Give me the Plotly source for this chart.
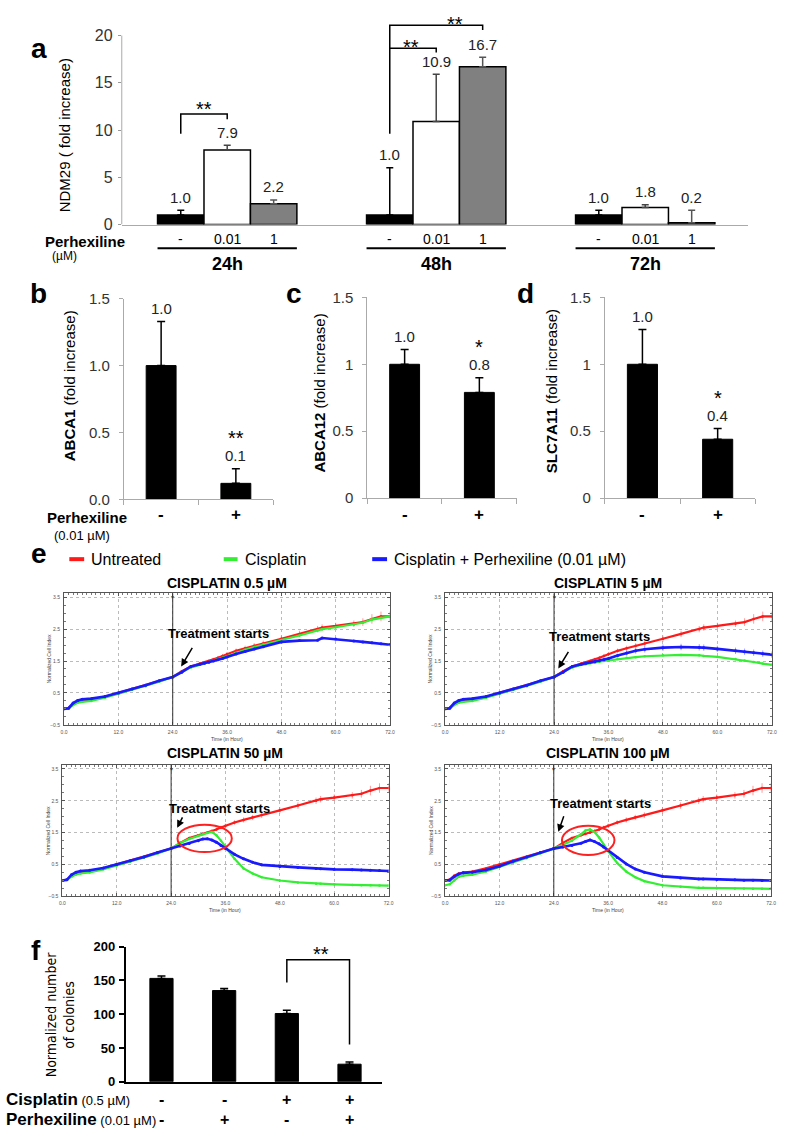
import plotly.graph_objects as go

W, H = 787, 1138
FONT = "Liberation Sans, Arial, Helvetica, sans-serif"
NARROW = "Liberation Sans Narrow, Arial Narrow, DejaVu Sans Condensed, Liberation Sans, Arial, sans-serif"


def px(x):
    return x / W


def py(y):
    return 1 - y / H


# ---------------- data ----------------
# (a) NDM29 fold increase
time_groups = ["24h", "48h", "72h"]
perhex_doses = ["-", "0.01", "1"]
ndm29_ctrl = [1.0, 1.0, 1.0]
ndm29_ctrl_err = [0.5, 5.0, 0.5]
ndm29_p001 = [7.9, 10.9, 1.8]
ndm29_p001_err = [0.5, 5.0, 0.3]
ndm29_p1 = [2.2, 16.7, 0.2]
ndm29_p1_err = [0.4, 1.0, 1.3]

# (b-d) transporter expression
perhex_flags = ["-", "+"]
abca1 = [1.0, 0.12]
abca1_err = [0.33, 0.11]
abca1_sig = ["", "**"]
abca12 = [1.0, 0.79]
abca12_err = [0.11, 0.11]
abca12_sig = ["", "*"]
slc7a11 = [1.0, 0.44]
slc7a11_err = [0.26, 0.08]
slc7a11_sig = ["", "*"]

# (e) real-time cell index
hours = [0, 1, 2, 3, 4, 6, 9, 12, 15, 18, 21, 24, 26, 28, 30, 31, 32, 33, 34, 35, 36,
         38, 40, 42, 44, 48, 52, 56, 57, 60, 64, 66, 68, 70, 72]
untreated = [0.00, 0.03, 0.15, 0.22, 0.25, 0.28, 0.38, 0.50, 0.62, 0.74, 0.87, 1.00,
             1.18, 1.33, 1.42, 1.46, 1.50, 1.55, 1.60, 1.66, 1.72, 1.82, 1.90, 1.98,
             2.05, 2.20, 2.35, 2.50, 2.55, 2.60, 2.67, 2.72, 2.82, 2.90, 2.90]
untreated_err = [0, 0, 0, 0, 0, 0, 0, 0, 0, 0, 0, 0, 0, 0.02, 0.03, 0.03, 0.04, 0.05,
                 0.05, 0.06, 0.06, 0.07, 0.08, 0.08, 0.09, 0.10, 0.10, 0.10, 0.10, 0.10,
                 0.10, 0.12, 0.15, 0.15, 0.15]
cis05 = [0.00, 0.02, 0.12, 0.19, 0.22, 0.25, 0.35, 0.47, 0.59, 0.71, 0.85, 1.00,
         1.15, 1.30, 1.38, 1.42, 1.46, 1.50, 1.55, 1.60, 1.65, 1.76, 1.85, 1.94,
         2.02, 2.16, 2.30, 2.46, 2.50, 2.56, 2.64, 2.70, 2.80, 2.86, 2.90]
cis05_perh = [0.00, 0.02, 0.18, 0.26, 0.30, 0.32, 0.39, 0.50, 0.62, 0.74, 0.88, 1.00,
              1.15, 1.33, 1.40, 1.43, 1.46, 1.50, 1.54, 1.58, 1.63, 1.72, 1.80, 1.88,
              1.95, 2.10, 2.14, 2.15, 2.22, 2.19, 2.13, 2.10, 2.07, 2.04, 2.01]
cis5 = [0.00, 0.02, 0.12, 0.19, 0.22, 0.25, 0.35, 0.47, 0.59, 0.71, 0.85, 1.00,
        1.15, 1.30, 1.38, 1.41, 1.44, 1.46, 1.48, 1.50, 1.52, 1.56, 1.60, 1.62,
        1.65, 1.68, 1.69, 1.68, 1.66, 1.63, 1.56, 1.52, 1.47, 1.42, 1.38]
cis5_perh = [0.00, 0.02, 0.18, 0.26, 0.30, 0.32, 0.39, 0.50, 0.62, 0.74, 0.88, 1.00,
             1.15, 1.33, 1.40, 1.43, 1.46, 1.48, 1.51, 1.54, 1.58, 1.67, 1.75, 1.82,
             1.87, 1.92, 1.94, 1.93, 1.92, 1.88, 1.82, 1.79, 1.76, 1.73, 1.70]
cis5_perh_err = [0, 0, 0, 0, 0, 0, 0, 0, 0, 0, 0, 0, 0, 0, 0, 0, 0, 0, 0,
                 0.04, 0.05, 0.06, 0.08, 0.09, 0.10, 0.10, 0.10, 0.10, 0.10, 0.10,
                 0.10, 0.10, 0.10, 0.10, 0.10]
cis50 = [0.00, 0.02, 0.12, 0.19, 0.22, 0.25, 0.35, 0.47, 0.59, 0.71, 0.85, 1.00,
         1.18, 1.30, 1.40, 1.45, 1.49, 1.52, 1.42, 1.25, 1.05, 0.68, 0.38, 0.22,
         0.10, 0.00, -0.06, -0.10, -0.10, -0.12, -0.14, -0.15, -0.15, -0.16, -0.16]
cis50_perh = [0.00, 0.02, 0.18, 0.26, 0.30, 0.32, 0.39, 0.50, 0.62, 0.74, 0.88, 1.00,
              1.08, 1.16, 1.25, 1.30, 1.31, 1.27, 1.20, 1.10, 1.00, 0.82, 0.68, 0.57,
              0.49, 0.44, 0.41, 0.38, 0.37, 0.35, 0.34, 0.33, 0.32, 0.31, 0.30]
cis100 = [-0.15, -0.12, 0.00, 0.12, 0.15, 0.18, 0.28, 0.42, 0.56, 0.70, 0.85, 1.00,
          1.12, 1.25, 1.45, 1.57, 1.60, 1.52, 1.35, 1.12, 0.92, 0.55, 0.28, 0.10,
          -0.02, -0.15, -0.20, -0.23, -0.23, -0.24, -0.25, -0.25, -0.26, -0.26, -0.26]
cis100_perh = [0.00, 0.01, 0.12, 0.20, 0.24, 0.26, 0.33, 0.45, 0.60, 0.74, 0.88, 1.00,
               1.05, 1.10, 1.17, 1.22, 1.27, 1.22, 1.15, 1.05, 0.94, 0.72, 0.52, 0.36,
               0.26, 0.13, 0.08, 0.05, 0.05, 0.03, 0.02, 0.01, 0.01, 0.00, 0.00]

# (f) colony formation
cisplatin_flags = ["-", "-", "+", "+"]
perhexiline_flags = ["-", "+", "-", "+"]
colonies = [153, 135, 101, 26]
colonies_err = [3.5, 3.0, 5.0, 3.4]

# ---------------- figure ----------------
fig = go.Figure()
ann = []
shapes = []
layout_axes = {}


def text(x, y, s, size=15, bold=False, color="black", xanchor="center",
         yanchor="middle", angle=0, family=FONT):
    ann.append(dict(x=px(x), y=py(y), xref="paper", yref="paper",
                    text=f"<b>{s}</b>" if bold else s, showarrow=False,
                    font=dict(size=size, color=color, family=family),
                    xanchor=xanchor, yanchor=yanchor, textangle=angle))


def bracket(xr, yr, x0, x1, yl, yt, yrr, width=1.5):
    shapes.append(dict(type="path", xref=xr, yref=yr,
                       path=f"M {x0},{yl} L {x0},{yt} L {x1},{yt} L {x1},{yrr}",
                       line=dict(color="black", width=width)))


# ---- panel a ----
layout_axes["xaxis"] = dict(domain=[px(120), px(753)], range=[-1.27, 12.22],
                            showline=True, linecolor="#aaaaaa", linewidth=1,
                            showticklabels=False, ticks="", showgrid=False,
                            zeroline=False, anchor="y", fixedrange=True)
layout_axes["yaxis"] = dict(domain=[py(219), py(3)], range=[0, 22.5],
                            tickvals=[0, 5, 10, 15, 20], ticks="outside", ticklen=3,
                            tickcolor="#999999", tickfont=dict(size=16, color="#333",
                                                               family=FONT),
                            ticklabelstandoff=2, showline=False, showgrid=False,
                            zeroline=False, anchor="x")
shapes.append(dict(type="line", xref="x domain", yref="y", x0=0, x1=0, y0=0, y1=20,
                   line=dict(color="#aaaaaa", width=1)))

a_series = [
    (ndm29_ctrl, ndm29_ctrl_err, "black", "black", 0),
    (ndm29_p001, ndm29_p001_err, "white", "#444444", 1),
    (ndm29_p1, ndm29_p1_err, "#808080", "#555555", 2),
]
for vals, errs, col, ecol, j in a_series:
    xs = [g * 4.5 + j for g in range(len(time_groups))]
    fig.add_trace(go.Bar(x=xs, y=vals, width=1, xaxis="x", yaxis="y",
                         marker=dict(color=col, line=dict(color="black", width=1.5)),
                         error_y=dict(type="data", array=errs, symmetric=False,
                                      arrayminus=[0 for _ in vals], color=ecol,
                                      thickness=1.5, width=3.5),
                         showlegend=False))
    for xv, v, e in zip(xs, vals, errs):
        ann.append(dict(x=xv, y=v + e, xref="x", yref="y", text=f"{v:.1f}",
                        showarrow=False, yanchor="middle", yshift=13,
                        font=dict(size=15, color="#222", family=FONT)))

for g, grp in enumerate(time_groups):
    for j, d in enumerate(perhex_doses):
        ann.append(dict(x=g * 4.5 + j, y=py(234), xref="x", yref="paper", text=d,
                        showarrow=False, yanchor="middle",
                        font=dict(size=14, color="black", family=FONT)))
    shapes.append(dict(type="line", xref="x", yref="paper", x0=g * 4.5 - 0.5,
                       x1=g * 4.5 + 2.5, y0=py(243), y1=py(243),
                       line=dict(color="black", width=2)))
    ann.append(dict(x=g * 4.5 + 1, y=py(259), xref="x", yref="paper",
                    text=f"<b>{grp}</b>", showarrow=False, yanchor="middle",
                    font=dict(size=18, color="black", family=FONT)))

text(83, 236, "Perhexiline", size=15, bold=True)
text(62, 251, "(µM)", size=12)
text(63, 128, "NDM29 ( fold increase)", size=15, angle=-90)
text(36, 40, "a", size=28, bold=True)

# significance a
bracket("x", "y", 0, 1, 9.6, 11.7, 11.15)
bracket("x", "y", 4.5, 6.5, 9.6, 21.1, 20.6)
shapes.append(dict(type="path", xref="x", yref="y", path="M 4.5,18.65 L 5.5,18.65 L 5.5,18.2",
                   line=dict(color="black", width=1.5)))
for xs_, ys_ in [(0.5, 12.2), (5.9, 21.25), (4.95, 18.8)]:
    ann.append(dict(x=xs_, y=ys_, xref="x", yref="y", text="**", showarrow=False,
                    yanchor="middle", font=dict(size=20, color="black", family=FONT)))

# ---- panels b, c, d ----
bcd = [
    (2, abca1, abca1_err, abca1_sig, "<b>ABCA1</b> (fold increase)", (122, 273),
     (498.3, 294.3), ["0.0", "0.5", "1.0", "1.5"], 68, 383, "b", 36),
    (3, abca12, abca12_err, abca12_sig, "<b>ABCA12</b> (fold increase)", (368, 519),
     (497, 293), ["0", "0.5", "1", "1.5"], 320, 390, "c", 294),
    (4, slc7a11, slc7a11_err, slc7a11_sig, "<b>SLC7A11</b> (fold increase)", (608, 760),
     (497, 293), ["0", "0.5", "1", "1.5"], 555, 388, "d", 528),
]
for n, vals, errs, sigs, ytitle, xd, yd, ttxt, tx, ty, lab, lx in bcd:
    layout_axes[f"xaxis{n}"] = dict(domain=[px(xd[0]), px(xd[1])], range=[-0.5, 1.5],
                                    tickvals=[-0.5, 0.5, 1.5], ticks="outside", ticklen=5,
                                    tickcolor="#aaaaaa", showticklabels=False,
                                    showline=True, linecolor="#aaaaaa", showgrid=False,
                                    zeroline=False, anchor=f"y{n}")
    layout_axes[f"yaxis{n}"] = dict(domain=[py(yd[0]), py(yd[1])], range=[0, 1.5],
                                    tickvals=[0, 0.5, 1, 1.5], ticktext=ttxt,
                                    ticks="outside", ticklen=4, tickcolor="#aaaaaa",
                                    ticklabelstandoff=6,
                                    tickfont=dict(size=15, color="#333", family=FONT),
                                    showline=True, linecolor="#aaaaaa", showgrid=False,
                                    zeroline=False, anchor=f"x{n}")
    fig.add_trace(go.Bar(x=[0, 1], y=vals, width=0.4, xaxis=f"x{n}", yaxis=f"y{n}",
                         marker=dict(color="black", line=dict(color="black", width=1)),
                         error_y=dict(type="data", array=errs, symmetric=False,
                                      arrayminus=[0, 0], color="black", thickness=1.5,
                                      width=4),
                         showlegend=False))
    for j, (v, e, s) in enumerate(zip(vals, errs, sigs)):
        ann.append(dict(x=j, y=v + e, xref=f"x{n}", yref=f"y{n}", text=f"{v:.1f}",
                        showarrow=False, yanchor="middle", yshift=13,
                        font=dict(size=15, color="#222", family=FONT)))
        if s:
            ann.append(dict(x=j, y=v + e, xref=f"x{n}", yref=f"y{n}", text=s,
                            showarrow=False, yanchor="middle", yshift=31,
                            font=dict(size=20, color="black", family=FONT)))
        ann.append(dict(x=j, y=py(514), xref=f"x{n}", yref="paper",
                        text=f"<b>{perhex_flags[j]}</b>", showarrow=False,
                        yanchor="middle", font=dict(size=17, color="black", family=FONT)))
    text(tx, ty, ytitle, size=15, angle=-90)
    text(lx, 289, lab, size=28, bold=True)

text(85, 517, "Perhexiline", size=15, bold=True)
text(80, 535, "(0.01 µM)", size=13)

# ---- panel e ----
text(36, 553, "e", size=28, bold=True)
legend_items = [("#ff1a1a", 67, 82, "Untreated"), ("#33ee33", 223, 237, "Cisplatin"),
                ("#1a1aff", 373, 388, "Cisplatin + Perhexiline (0.01 µM)")]
for col, x0, x1, lbl in legend_items:
    shapes.append(dict(type="line", xref="paper", yref="paper", x0=px(x0), x1=px(x1),
                       y0=py(559), y1=py(559), line=dict(color=col, width=4)))
    text(x1 + 5, 559, lbl, size=16, xanchor="left")

e_panels = [
    (5, (61.7, 391.0), 727.3, "CISPLATIN 0.5 µM", 583, cis05, cis05_perh, None, None,
     (218, 635), (180, 668), (192, 648)),
    (6, (446.7, 776.7), 727.3, "CISPLATIN 5 µM", 583, cis5, cis5_perh, cis5_perh_err,
     None, (603, 638), (561, 670), (572, 652)),
    (7, (60.0, 389.5), 901.7, "CISPLATIN 50 µM", 756, cis50, cis50_perh, None,
     (31.4, 1.32, 6.0, 0.43), (219, 812), (176, 832), (182, 820)),
    (8, (446.7, 776.0), 901.7, "CISPLATIN 100 µM", 756, cis100, cis100_perh, None,
     (31.6, 1.26, 5.8, 0.46), (604, 807), (561, 836), (567, 819)),
]
for n, xd, ybot, title, title_y, green, blue, blue_err, ell, ts, tip, tail in e_panels:
    ytop = ybot - 4.12 * 32.4
    layout_axes[f"xaxis{n}"] = dict(
        domain=[px(xd[0]), px(xd[1])], range=[0, 72], tick0=0, dtick=12,
        tickformat=".1f", ticks="inside", ticklen=3, tickcolor="#555",
        tickfont=dict(size=5, color="#555", family=FONT), ticklabelstandoff=2,
        showline=True, linecolor="#555", linewidth=1, mirror="allticks",
        showgrid=True, gridcolor="#bbbbbb", griddash="dot", gridwidth=0.8,
        zeroline=False, anchor=f"y{n}",
        minor=dict(dtick=1, ticks="inside", ticklen=2, tickcolor="#777", showgrid=False))
    layout_axes[f"yaxis{n}"] = dict(
        domain=[py(ybot), py(ytop)], range=[-0.5, 3.62], tick0=-0.5, dtick=1,
        tickformat=".1f", ticks="inside", ticklen=3, tickcolor="#555",
        tickfont=dict(size=5, color="#555", family=FONT), ticklabelstandoff=2,
        showline=True, linecolor="#555", linewidth=1, mirror="allticks",
        showgrid=True, gridcolor="#bbbbbb", griddash="dot", gridwidth=0.8,
        zeroline=False, anchor=f"x{n}",
        minor=dict(dtick=0.25, ticks="inside", ticklen=2, tickcolor="#777", showgrid=False))
    fig.add_trace(go.Scatter(
        x=hours, y=untreated, mode="lines+markers", xaxis=f"x{n}", yaxis=f"y{n}",
        line=dict(color="#ff1a1a", width=2.2), marker=dict(size=2.5, color="#ff1a1a"),
        error_y=dict(type="data", array=untreated_err, color="rgba(255,90,90,0.75)",
                     thickness=0.8, width=0), showlegend=False))
    fig.add_trace(go.Scatter(
        x=hours, y=green, mode="lines+markers", xaxis=f"x{n}", yaxis=f"y{n}",
        line=dict(color="#33ee33", width=2.2), marker=dict(size=2.5, color="#33ee33"),
        showlegend=False))
    blue_kw = {}
    if blue_err is not None:
        blue_kw["error_y"] = dict(type="data", array=blue_err,
                                  color="rgba(90,90,255,0.7)", thickness=0.8, width=0)
    fig.add_trace(go.Scatter(
        x=hours, y=blue, mode="lines+markers", xaxis=f"x{n}", yaxis=f"y{n}",
        line=dict(color="#1a1aff", width=2.6), marker=dict(size=3, color="#1a1aff"),
        showlegend=False, **blue_kw))
    # treatment line
    shapes.append(dict(type="line", xref=f"x{n}", yref=f"y{n} domain", x0=24, x1=24,
                       y0=0, y1=1, line=dict(color="#333", width=1)))
    ann.append(dict(x=24, y=1, xref=f"x{n}", yref=f"y{n} domain", text="▼",
                    showarrow=False, yanchor="top", yshift=1,
                    font=dict(size=5, color="#333", family=FONT)))
    if ell is not None:
        cx, cy, rx, ry = ell
        shapes.append(dict(type="circle", xref=f"x{n}", yref=f"y{n}", x0=cx - rx,
                           x1=cx + rx, y0=cy - ry, y1=cy + ry,
                           line=dict(color="#ff2020", width=2)))
    cxp = (xd[0] + xd[1]) / 2
    text(cxp, title_y, title, size=14, bold=True)
    text(xd[0] - 15, (ybot + ytop) / 2, "Normalized Cell Index", size=5, angle=-90,
         color="#444")
    text(cxp, ybot + 14, "Time (in Hour)", size=5, color="#444")
    text(ts[0], ts[1], "Treatment starts", size=13, bold=True)
    ann.append(dict(x=px(tip[0]), y=py(tip[1]), xref="paper", yref="paper", text="",
                    showarrow=True, arrowhead=2, arrowsize=1, arrowwidth=1.5,
                    arrowcolor="black", axref="pixel", ayref="pixel",
                    ax=tail[0] - tip[0], ay=tail[1] - tip[1]))

# ---- panel f ----
layout_axes["xaxis9"] = dict(domain=[px(124), px(383)], range=[-0.57, 3.52],
                             showline=True, linecolor="black", linewidth=2,
                             showticklabels=False, ticks="", showgrid=False,
                             zeroline=False, anchor="y9")
layout_axes["yaxis9"] = dict(domain=[py(1090), py(952.7)], range=[0, 200],
                             tickvals=[0, 50, 100, 150, 200], ticks="outside", ticklen=5,
                             tickwidth=2, tickcolor="black", ticklabelstandoff=1,
                             tickfont=dict(size=13, color="black", family=FONT,
                                           weight="bold"),
                             showline=True, linecolor="black", linewidth=2,
                             showgrid=False, zeroline=False, anchor="x9")
fig.add_trace(go.Bar(x=list(range(len(colonies))), y=colonies, width=0.37,
                     xaxis="x9", yaxis="y9",
                     marker=dict(color="black", line=dict(color="black", width=1)),
                     error_y=dict(type="data", array=colonies_err, symmetric=False,
                                  arrayminus=[0 for _ in colonies], color="black",
                                  thickness=1.5, width=4),
                     showlegend=False))
bracket("x9", "y9", 2, 3, 147, 180.6, 55)
ann.append(dict(x=2.55, y=189.4, xref="x9", yref="y9", text="**", showarrow=False,
                yanchor="middle", font=dict(size=20, color="black", family=FONT)))
for j in range(len(colonies)):
    ann.append(dict(x=j, y=py(1108), xref="x9", yref="paper",
                    text=f"<b>{cisplatin_flags[j]}</b>", showarrow=False,
                    yanchor="middle", font=dict(size=16, color="black", family=FONT)))
    ann.append(dict(x=j, y=py(1128), xref="x9", yref="paper",
                    text=f"<b>{perhexiline_flags[j]}</b>", showarrow=False,
                    yanchor="middle", font=dict(size=16, color="black", family=FONT)))
text(1, 1108, "<b>Cisplatin</b><span style='font-size:13px'> (0.5 µM)</span>", size=17,
     xanchor="left")
text(1, 1128, "<b>Perhexiline</b><span style='font-size:13px'> (0.01 µM)</span>",
     size=17, xanchor="left")
text(57, 1022, "Normalized number<br>of colonies", size=14, angle=-90, family=NARROW)
text(33, 957, "f", size=28, bold=True)

fig.update_layout(
    width=W, height=H, margin=dict(l=0, r=0, t=0, b=0),
    paper_bgcolor="white", plot_bgcolor="white", barmode="overlay",
    font=dict(family=FONT, color="black"),
    annotations=ann, shapes=shapes, showlegend=False, **layout_axes)

fig.write_html("out.html", config={"displayModeBar": False},
               post_script="document.body.style.margin='0';"
                           "document.body.style.overflow='hidden';")
